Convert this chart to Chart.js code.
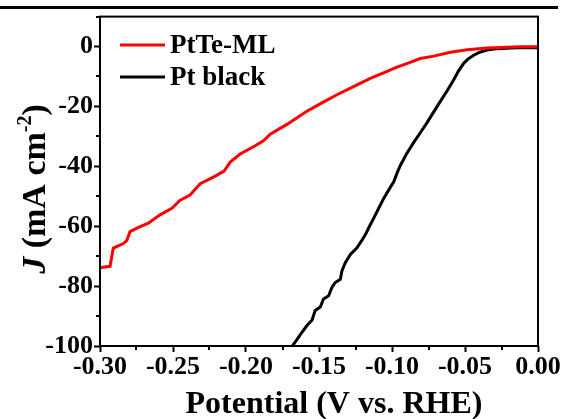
<!DOCTYPE html>
<html>
<head>
<meta charset="utf-8">
<script src="https://cdn.jsdelivr.net/npm/chart.js@4/dist/chart.umd.min.js"></script>
<style>
  html, body { margin: 0; padding: 0; background: #fff; }
  #wrap { position: relative; width: 563px; height: 419px; }
  #topline { position: absolute; left: 0; top: 6px; width: 558px; height: 3px; background: #000; }
  canvas { position: absolute; left: 0; top: 0; }
</style>
</head>
<body>
<div id="wrap">
  <div id="topline"></div>
  <canvas id="c" width="563" height="419"></canvas>
</div>
<script>
// ---- data ----
const seriesNames = ["PtTe-ML", "Pt black"];
const seriesColors = ["#ff0000", "#000000"];

const ptteV = [-0.2995,-0.2931,-0.2909,-0.2840,-0.2817,-0.2794,-0.2737,-0.2669,-0.2589,-0.2508,-0.2451,-0.2383,-0.2314,-0.2223,-0.2150,-0.2108,-0.2040,-0.1940,-0.1880,-0.1834,-0.1720,-0.1583,-0.1480,-0.1377,-0.1260,-0.1149,-0.1050,-0.0966,-0.0880,-0.0806,-0.0714,-0.0600,-0.0485,-0.0350,-0.0257,-0.0120,0.0000];
const ptteJ = [-73.8,-73.4,-67.3,-65.8,-64.8,-61.8,-60.4,-59.0,-56.2,-54.0,-51.3,-49.6,-45.8,-43.6,-41.6,-38.6,-35.9,-33.2,-31.5,-29.3,-26.0,-21.6,-18.8,-16.1,-13.3,-10.6,-8.6,-6.9,-5.4,-4.0,-3.2,-1.9,-1.1,-0.5,-0.3,-0.1,-0.1];

const ptV = [0.0000,-0.0150,-0.0280,-0.0348,-0.0400,-0.0440,-0.0480,-0.0509,-0.0545,-0.0577,-0.0620,-0.0669,-0.0715,-0.0760,-0.0805,-0.0851,-0.0900,-0.0943,-0.0965,-0.0988,-0.1020,-0.1057,-0.1090,-0.1125,-0.1155,-0.1182,-0.1210,-0.1240,-0.1285,-0.1320,-0.1343,-0.1354,-0.1389,-0.1411,-0.1434,-0.1469,-0.1491,-0.1526,-0.1548,-0.1580,-0.1618,-0.1650,-0.1690];
const ptJ = [-0.4,-0.4,-0.7,-1.2,-1.9,-2.9,-4.2,-5.6,-8.2,-11.1,-14.6,-18.3,-21.9,-25.4,-28.7,-32.0,-35.8,-39.7,-42.2,-45.2,-47.7,-50.7,-53.9,-57.3,-60.1,-62.8,-65.0,-67.2,-69.4,-72.2,-74.9,-77.7,-78.8,-80.4,-83.2,-84.3,-87.0,-88.1,-91.4,-93.0,-95.5,-97.8,-100.5];

const xMajorTicks = [-0.30,-0.25,-0.20,-0.15,-0.10,-0.05,0.00];
const xMinorTicks = [-0.275,-0.225,-0.175,-0.125,-0.075,-0.025];
const yMajorTicks = [-100,-80,-60,-40,-20,0];
const yMinorTicks = [-90,-70,-50,-30,-10,10];

const xTitle = "Potential (V vs. RHE)";
const yTitleParts = ["J", " (mA cm", "-2", ")"];

const SERIF = '"Liberation Serif", "Times New Roman", serif';

function toPoints(xs, ys) { return xs.map((x, i) => ({ x: x, y: ys[i] })); }

const extras = {
  id: 'extras',
  afterDatasetsDraw(chart) {
    const ctx = chart.ctx;
    const a = chart.chartArea;
    const xs = chart.scales.x, ys = chart.scales.y;
    ctx.save();
    // frame
    ctx.strokeStyle = '#000';
    ctx.lineWidth = 2;
    ctx.strokeRect(a.left, a.top, a.right - a.left, a.bottom - a.top);
    // minor ticks
    ctx.beginPath();
    xMinorTicks.forEach(v => {
      const px = Math.round(xs.getPixelForValue(v));
      ctx.moveTo(px, a.bottom); ctx.lineTo(px, a.bottom + 4);
    });
    yMinorTicks.forEach(v => {
      const py = Math.round(ys.getPixelForValue(v));
      ctx.moveTo(a.left, py); ctx.lineTo(a.left - 4, py);
    });
    ctx.stroke();

    // legend
    chart.data.datasets.forEach((ds, i) => {
      const yc = 45 + i * 32;
      ctx.strokeStyle = ds.borderColor;
      ctx.lineWidth = 3;
      ctx.beginPath();
      ctx.moveTo(120, yc); ctx.lineTo(165, yc);
      ctx.stroke();
      ctx.fillStyle = '#000';
      ctx.font = 'bold 27px ' + SERIF;
      ctx.textAlign = 'left';
      ctx.textBaseline = 'alphabetic';
      ctx.fillText(ds.label, 170, yc + 8);
    });

    // x title
    ctx.fillStyle = '#000';
    ctx.font = 'bold 32px ' + SERIF;
    ctx.textAlign = 'center';
    ctx.textBaseline = 'alphabetic';
    ctx.fillText(xTitle, 334, 413);

    // y title (rotated, italic J, superscript)
    const fonts = [
      'italic bold 34px ' + SERIF,
      'bold 34px ' + SERIF,
      'bold 20px ' + SERIF,
      'bold 34px ' + SERIF
    ];
    const raise = [0, 0, -14, 0];
    const widths = yTitleParts.map((t, i) => { ctx.font = fonts[i]; return ctx.measureText(t).width; });
    const total = widths.reduce((s, w) => s + w, 0);
    ctx.translate(45, 189);
    ctx.rotate(-Math.PI / 2);
    ctx.textAlign = 'left';
    let cx = -total / 2;
    yTitleParts.forEach((t, i) => {
      ctx.font = fonts[i];
      ctx.fillText(t, cx, raise[i]);
      cx += widths[i];
    });
    ctx.restore();
  }
};

new Chart(document.getElementById('c'), {
  type: 'line',
  data: {
    datasets: [
      { label: seriesNames[0], data: toPoints(ptteV, ptteJ), borderColor: seriesColors[0], backgroundColor: seriesColors[0], borderWidth: 3, pointRadius: 0, tension: 0, fill: false },
      { label: seriesNames[1], data: toPoints(ptV, ptJ), borderColor: seriesColors[1], backgroundColor: seriesColors[1], borderWidth: 3, pointRadius: 0, tension: 0, fill: false }
    ]
  },
  options: {
    responsive: false,
    animation: false,
    devicePixelRatio: 1,
    layout: { padding: { left: 0, top: 13, right: 25, bottom: 0 } },
    plugins: { legend: { display: false }, title: { display: false }, tooltip: { enabled: false } },
    scales: {
      x: {
        type: 'linear',
        min: -0.30, max: 0,
        afterBuildTicks: s => { s.ticks = xMajorTicks.map(v => ({ value: v })); },
        afterFit: s => { s.height = 73; },
        ticks: {
          autoSkip: false, maxRotation: 0, minRotation: 0, padding: 0,
          color: '#000',
          font: { family: SERIF, size: 26, weight: 'bold' },
          callback: v => Number(v).toFixed(2)
        },
        grid: { drawOnChartArea: false, drawTicks: true, tickLength: 6, tickColor: '#000', tickWidth: 2 },
        border: { display: false }
      },
      y: {
        type: 'linear',
        min: -100, max: 10,
        afterBuildTicks: s => { s.ticks = yMajorTicks.map(v => ({ value: v })); },
        afterFit: s => { s.width = 100; },
        ticks: {
          autoSkip: false, padding: 1,
          color: '#000',
          font: { family: SERIF, size: 26, weight: 'bold' },
          callback: v => String(v)
        },
        grid: { drawOnChartArea: false, drawTicks: true, tickLength: 6, tickColor: '#000', tickWidth: 2 },
        border: { display: false }
      }
    }
  },
  plugins: [extras]
});
</script>
</body>
</html>
